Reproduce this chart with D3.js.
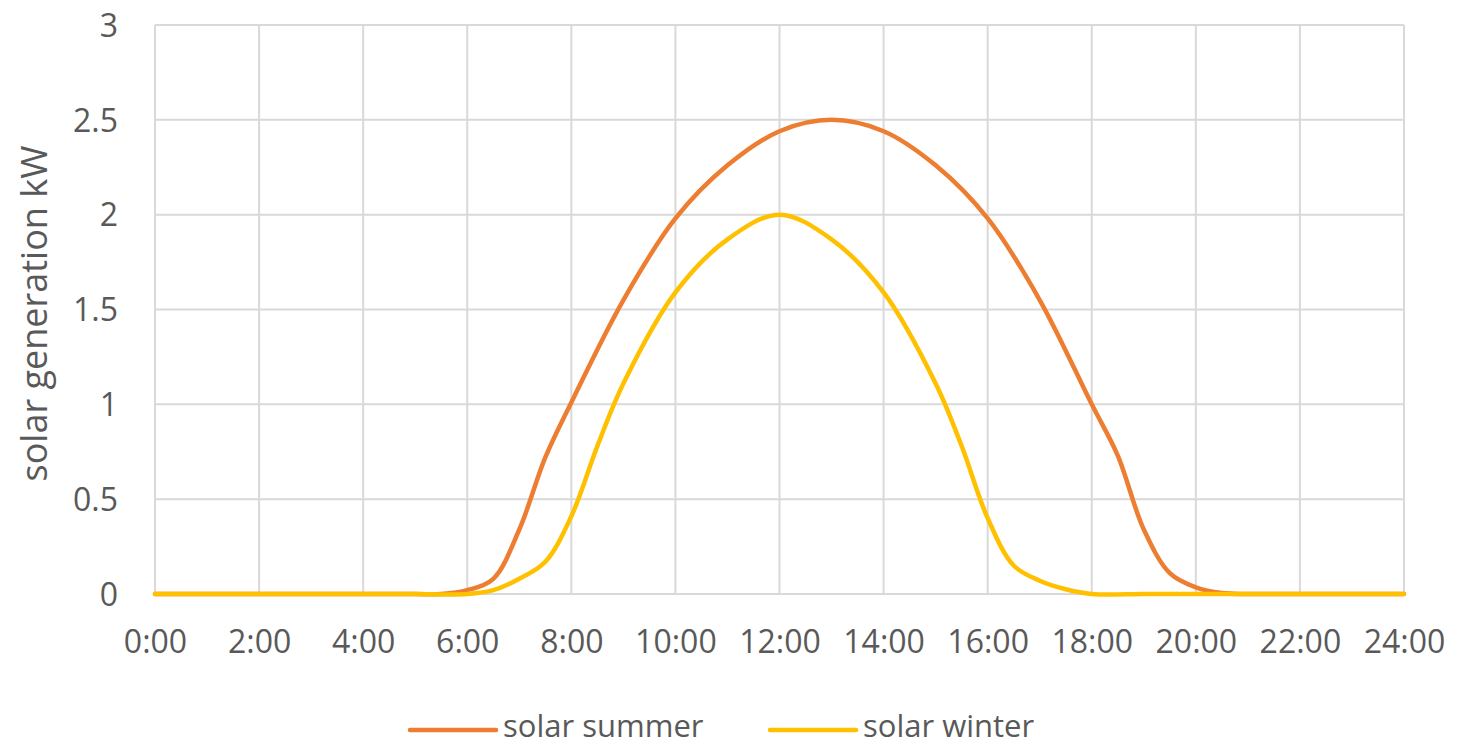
<!DOCTYPE html>
<html>
<head>
<meta charset="utf-8">
<script src="https://cdn.jsdelivr.net/npm/d3@7"></script>
<style>
  html, body { margin: 0; padding: 0; background: #fff; }
  svg text { font-family: "Open Sans", "Noto Sans", sans-serif; fill: #595959; }
</style>
</head>
<body>
<svg id="chart" width="1460" height="746"></svg>
<script>
// Summer day: sample times (hours) and solar generation (kW)
const summerHours = [0, 1, 2, 3, 4, 5, 5.5, 6, 6.5, 7, 7.5, 8, 9, 10, 11, 12, 13, 14, 15, 16, 17, 18, 18.5, 19, 19.5, 20, 20.5, 21, 22, 23, 24];
const summer      = [0, 0, 0, 0, 0, 0, 0, 0.02, 0.08, 0.34, 0.72, 1.01, 1.55, 1.98, 2.26, 2.44, 2.5, 2.44, 2.26, 1.98, 1.55, 1.0, 0.73, 0.34, 0.11, 0.035, 0.005, 0, 0, 0, 0];
// Winter day: sample times (hours) and solar generation (kW)
const winterHours = [0, 1, 2, 3, 4, 5, 6, 6.5, 7, 7.5, 8, 8.5, 9, 10, 11, 12, 13, 14, 15, 15.5, 16, 16.5, 17, 17.5, 18, 19, 20, 21, 22, 23, 24];
const winter      = [0, 0, 0, 0, 0, 0, 0, 0.02, 0.08, 0.17, 0.41, 0.78, 1.11, 1.59, 1.87, 2.0, 1.87, 1.59, 1.11, 0.78, 0.40, 0.15, 0.07, 0.025, 0, 0, 0, 0, 0, 0, 0];

const seriesNames = ["solar summer", "solar winter"];
const seriesColors = ["#ED7D31", "#FFC000"];
const xTicks = [0, 2, 4, 6, 8, 10, 12, 14, 16, 18, 20, 22, 24];
const yTicks = [0, 0.5, 1, 1.5, 2, 2.5, 3];
const yTitle = "solar generation kW";

const svg = d3.select("#chart");
const margin = { left: 155, right: 56, top: 25, bottom: 152 };
const W = 1460, H = 746;
const x = d3.scaleLinear().domain([0, 24]).range([margin.left, W - margin.right]);
const y = d3.scaleLinear().domain([0, 3]).range([H - margin.bottom, margin.top]);

// Gridlines
const grid = svg.append("g");
grid.selectAll("line.h").data(yTicks).join("line")
  .attr("x1", x(0)).attr("x2", x(24))
  .attr("y1", d => y(d)).attr("y2", d => y(d))
  .attr("stroke", "#d9d9d9").attr("stroke-width", 2);
grid.selectAll("line.v").data(xTicks).join("line")
  .attr("x1", d => x(d)).attr("x2", d => x(d))
  .attr("y1", y(0)).attr("y2", y(3))
  .attr("stroke", "#d9d9d9").attr("stroke-width", 2);

// Axes (labels only)
const xAxis = svg.append("g").attr("transform", `translate(0,${y(0)})`)
  .call(d3.axisBottom(x).tickValues(xTicks).tickSize(0).tickPadding(59)
    .tickFormat(d => d + ":00"));
xAxis.select(".domain").remove();
xAxis.selectAll("text").attr("font-size", 32).attr("dy", 0);

const yAxis = svg.append("g").attr("transform", `translate(${margin.left},0)`)
  .call(d3.axisLeft(y).tickValues(yTicks).tickSize(0).tickPadding(37)
    .tickFormat(d => String(d)));
yAxis.select(".domain").remove();
yAxis.selectAll("text").attr("font-size", 32).attr("dy", "0.35em");

// Y axis title
svg.append("text")
  .attr("transform", `translate(47,${(y(0) + y(3)) / 2 + 4}) rotate(-90)`)
  .attr("text-anchor", "middle")
  .attr("font-size", 36)
  .text(yTitle);

// Series lines
const series = [
  { hours: summerHours, values: summer },
  { hours: winterHours, values: winter }
];
series.forEach((s, k) => {
  const line = d3.line()
    .x((d, i) => x(s.hours[i]))
    .y(d => y(d))
    .curve(d3.curveCatmullRom.alpha(0.5));
  svg.append("path")
    .datum(s.values)
    .attr("d", line)
    .attr("fill", "none")
    .attr("stroke", seriesColors[k])
    .attr("stroke-width", 4.5)
    .attr("stroke-linejoin", "round")
    .attr("stroke-linecap", "round");
});

// Legend
const legendX = [410, 770];
const legend = svg.append("g");
seriesNames.forEach((name, k) => {
  legend.append("line")
    .attr("x1", legendX[k]).attr("x2", legendX[k] + 86)
    .attr("y1", 730).attr("y2", 730)
    .attr("stroke", seriesColors[k]).attr("stroke-width", 4.5)
    .attr("stroke-linecap", "round");
  legend.append("text")
    .attr("x", legendX[k] + 93).attr("y", 737)
    .attr("font-size", 31)
    .text(name);
});
</script>
</body>
</html>
